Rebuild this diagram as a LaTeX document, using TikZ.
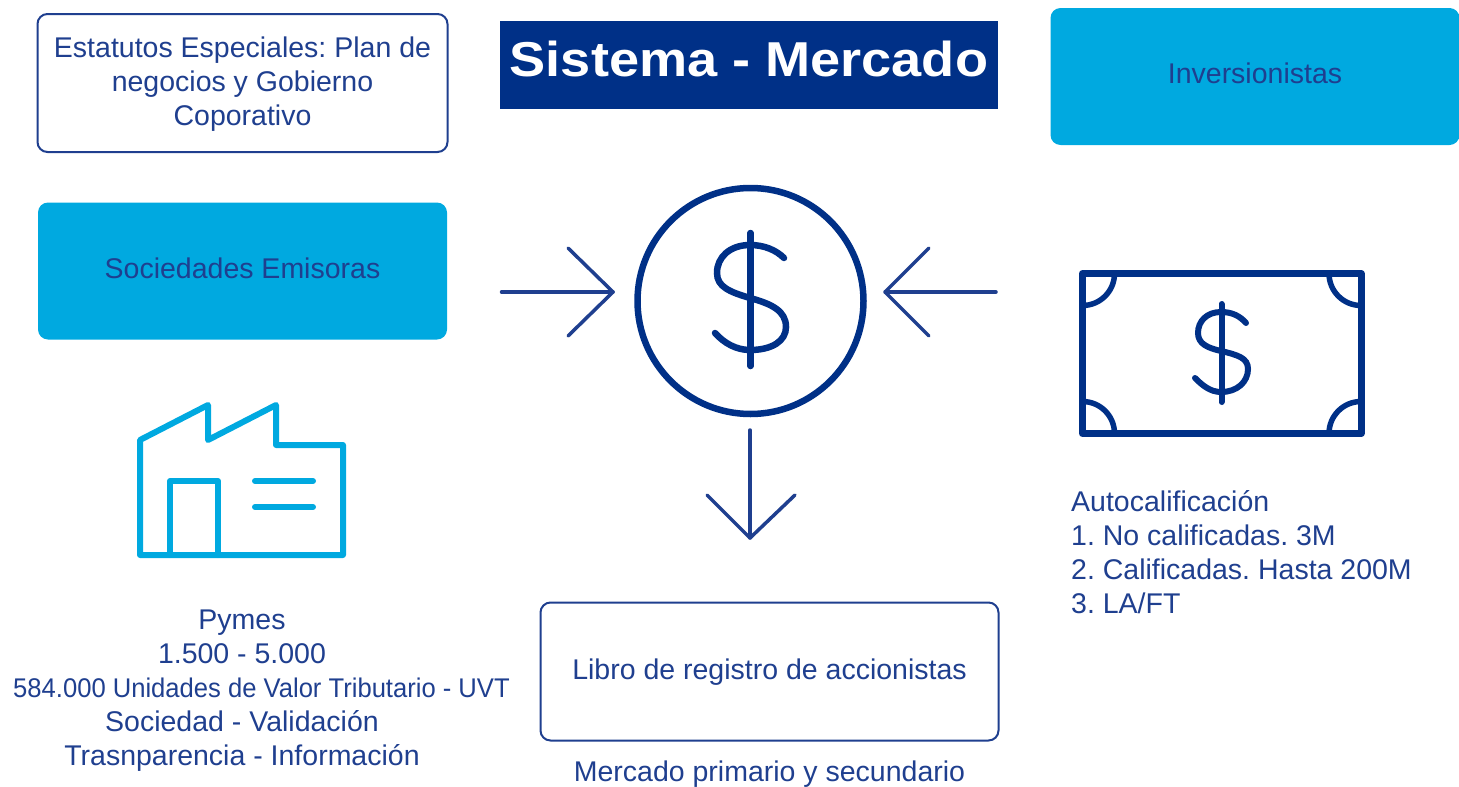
\documentclass[tikz,border=0pt]{standalone}
\usepackage{fontspec}
\setmainfont{Liberation Sans}
\definecolor{navy}{HTML}{1F3F8F}
\definecolor{deep}{HTML}{003087}
\definecolor{sky}{HTML}{00A9E0}
\newcommand{\bodyfont}{\frenchspacing\fontsize{28.5}{34}\selectfont}
\tikzset{x=1pt,y=-1pt,
 outline/.style={draw=navy,line width=2pt,rounded corners=10pt,fill=white},
 filled/.style={fill=sky,rounded corners=10pt},
 label/.style={align=center,text=navy,font=\bodyfont,inner sep=0pt},
 ic/.style={draw=deep,line width=6.5pt},
 bill/.style={draw=deep,line width=5.5pt},
 sign/.style={draw=deep,line width=6.5pt,line cap=round},
 ar/.style={draw=navy,line width=3.5pt,line cap=round,line join=round},
 fac/.style={draw=sky,line width=6pt,line cap=round,line join=round}}
\begin{document}
\begin{tikzpicture}
\useasboundingbox (0,0) rectangle (1459,787);
\node[outline,minimum width=410,minimum height=138] (est) at (242.5,83) {};
\node[fill=deep,minimum width=498,minimum height=88] (title) at (748.5,65) {};
\node[filled,minimum width=409,minimum height=137] (inv) at (1255,76.5) {};
\node[filled,minimum width=409,minimum height=137] (soc) at (242.5,271) {};
\node[outline,minimum width=458,minimum height=138] (lib) at (769.5,671.5) {};
\node[label] (esttext) at (242.5,84) {Estatutos Especiales: Plan de\\negocios y Gobierno\\Coporativo};
\node[anchor=base,inner sep=0pt,text=white,font=\fontsize{49}{50}\selectfont\bfseries] (titletext) at (749,76.7) {\scalebox{1.105}[1]{Sistema - Mercado}};
\node[label] (invtext) at (1255,73.5) {Inversionistas};
\node[label] (soctext) at (242.5,268.5) {Sociedades Emisoras};
\node[label] (libtext) at (769.5,672) {Libro de registro de accionistas};
\node[label] (pym) at (242,691) {Pymes\\1.500 - 5.000\\\hspace*{39pt}\scalebox{0.948}[1]{\fontsize{27}{34}\selectfont 584.000 Unidades de Valor Tributario - UVT}\\Sociedad - Validación\\Trasnparencia - Información};
\node[label,align=left,anchor=north west] (aut) at (1071,490) {Autocalificación\\1. No calificadas. 3M\\2. Calificadas. Hasta 200M\\3. LA/FT};
\node[label] (mer) at (769.5,774) {Mercado primario y secundario};
% centre coin
\node[circle,ic,minimum size=226,inner sep=0pt,outer sep=0pt] (coin) at (750.5,301) {};
\coordinate (cl) at (501.5,292); \coordinate (clt) at (613,292);
\coordinate (cr) at (996,292); \coordinate (crt) at (885,292);
\coordinate (cd) at (750,430); \coordinate (cdt) at (750,538);
\draw[ar] (cl)--(clt);
\draw[ar] (568,248)--(clt)--(568,336);
\draw[ar] (cr)--(crt);
\draw[ar] (929,248)--(crt)--(929,336);
\draw[ar] (cd)--(cdt);
\draw[ar] (707,495)--(cdt)--(795,495);
% dollar big
\draw[sign] (750.5,233)--(750.5,366);
\draw[sign] (784,258) .. controls (776,250) and (764,245) .. (750,245) .. controls (730,245) and (717,257) .. (717,273) .. controls (717,287) and (730,292) .. (750,298) .. controls (772,304) and (786,311) .. (786,327) .. controls (786,341) and (772,350) .. (750,350) .. controls (736,350) and (724,343) .. (715,333);
% bill
\draw[ic,line width=7pt,line join=round] (1082.5,273.5) rectangle (1361,433.5);
\draw[bill] (1082.5,305.5) arc[start angle=90,end angle=0,radius=32];
\draw[bill] (1329,273.5) arc[start angle=180,end angle=90,radius=32];
\draw[bill] (1082.5,401.5) arc[start angle=-90,end angle=0,radius=32];
\draw[bill] (1329,433.5) arc[start angle=180,end angle=270,radius=32];
\draw[sign,line width=6pt] (1221.5,304)--(1221.5,402);
\draw[sign,line width=6pt] (1246,323) .. controls (1240,316) and (1232,312) .. (1221,312) .. controls (1207,312) and (1198,321) .. (1198,333) .. controls (1198,344) and (1208,348) .. (1221,351) .. controls (1238,355) and (1248,358) .. (1248,369) .. controls (1248,382) and (1237,392) .. (1221,392) .. controls (1210,392) and (1202,385) .. (1195,378);
% factory
\draw[fac] (140,555) -- (140,440) -- (208,405) -- (208,440) -- (276,405) -- (276,445) -- (343,445) -- (343,555) -- cycle;
\draw[fac] (170,555) -- (170,481) -- (218,481) -- (218,555);
\draw[fac] (255,481) -- (313,481);
\draw[fac] (255,507) -- (313,507);
\end{tikzpicture}
\end{document}
